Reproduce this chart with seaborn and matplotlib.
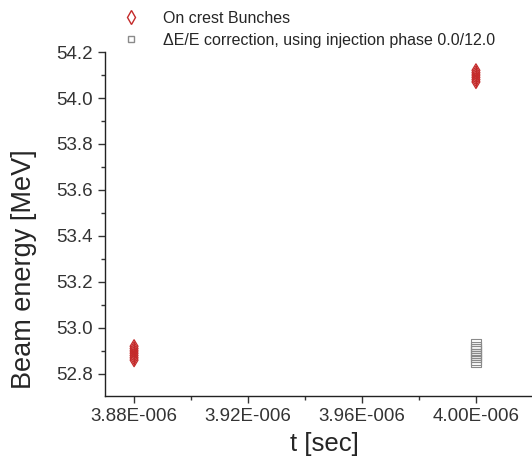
import matplotlib as mpl
import matplotlib.pyplot as plt
from matplotlib.ticker import MultipleLocator, FuncFormatter
from matplotlib.lines import Line2D
import seaborn as sns
import pandas as pd

sns.set_style("ticks")
plt.rcParams['font.family'] = ['Liberation Sans', 'DejaVu Sans']

# data
crest_t = [3.88e-6] * 7 + [4.00e-6] * 6
crest_e = [52.86, 52.87, 52.88, 52.89, 52.90, 52.91, 52.92,
           54.07, 54.08, 54.09, 54.10, 54.11, 54.12]
corr_t = [4.00e-6] * 9
corr_e = [52.85, 52.86, 52.87, 52.88, 52.89, 52.90, 52.91, 52.92, 52.93]

crest = pd.DataFrame({"t": crest_t, "E": crest_e})
corr = pd.DataFrame({"t": corr_t, "E": corr_e})

red = "#c42a2a"
gray = "#8a8a8a"

fig = plt.figure(figsize=(5.32, 4.62), dpi=100)
ax = fig.add_axes([0.1974, 0.1429, 0.8006, 0.7445])

# red: open thin diamond with vertical bar
sns.scatterplot(data=crest, x="t", y="E", marker="d", s=45, facecolor="none",
                edgecolor=red, linewidth=0.9, ax=ax)
sns.scatterplot(data=crest, x="t", y="E", marker="|", s=45, color=red,
                linewidth=0.9, ax=ax)
# gray: open square with horizontal bar
sns.scatterplot(data=corr, x="t", y="E", marker="s", s=45, facecolor="none",
                edgecolor=gray, linewidth=0.8, ax=ax)
sns.scatterplot(data=corr, x="t", y="E", marker="_", s=45, color=gray,
                linewidth=0.8, ax=ax)

ax.set_xlim(3.8698e-6, 4.0193e-6)
ax.set_ylim(52.704, 54.2)
ax.xaxis.set_major_locator(MultipleLocator(0.04e-6))
ax.xaxis.set_minor_locator(MultipleLocator(0.02e-6))
ax.yaxis.set_major_locator(MultipleLocator(0.2))
ax.yaxis.set_minor_locator(MultipleLocator(0.1))
ax.xaxis.set_major_formatter(FuncFormatter(lambda v, p: "%.2fE-006" % (v * 1e6)))
ax.yaxis.set_major_formatter(FuncFormatter(lambda v, p: "%.1f" % v))
ax.tick_params(which="major", direction="out", length=5, width=1, labelsize=13.5,
               colors="#333333", pad=4)
ax.tick_params(which="minor", direction="out", length=3, width=1, colors="#333333")
for s in ["top", "right"]:
    ax.spines[s].set_visible(False)
for s in ["left", "bottom"]:
    ax.spines[s].set_linewidth(1.0)
    ax.spines[s].set_color("#222222")

ax.set_xlabel("t [sec]", fontsize=18.5, va="center")
ax.set_ylabel("Beam energy [MeV]", fontsize=19.5, va="center")
ax.xaxis.set_label_coords(0.514, -0.14)
ax.yaxis.set_label_coords(-0.19, 0.37)

h1 = Line2D([], [], marker="d", color=red, markerfacecolor="none", linestyle="none", markersize=7)
h2 = Line2D([], [], marker="s", color=gray, markerfacecolor="none", linestyle="none", markersize=5)
fig.legend([h1, h2], ["On crest Bunches", "\u0394E/E correction, using injection phase 0.0/12.0"],
           loc="upper left", bbox_to_anchor=(0.19, 1.008), frameon=False,
           fontsize=11.5, handletextpad=1.0, labelspacing=0.45)

fig.savefig("out.png", dpi=100)
